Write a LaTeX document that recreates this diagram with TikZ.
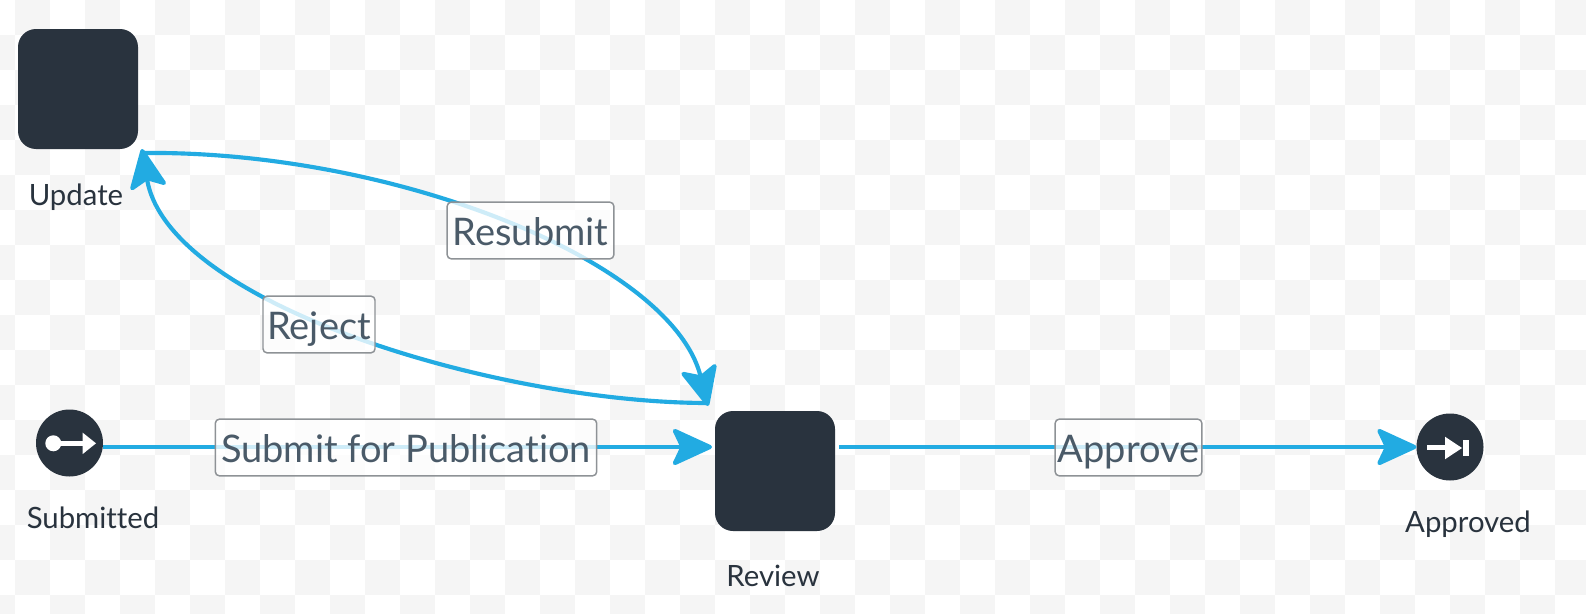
\documentclass[tikz,border=0pt]{standalone}
\usepackage{fontspec}
\setmainfont{Lato}[Ligatures=NoCommon]
\usetikzlibrary{arrows.meta}
\definecolor{ink}{HTML}{29333E}
\definecolor{flow}{HTML}{22ABE2}
\definecolor{labelink}{HTML}{4A5A68}
\definecolor{check}{HTML}{F5F5F5}
\definecolor{labeledge}{HTML}{8E9296}
\tikzset{
  x=0.75pt,y=-0.75pt,
  task/.style={fill=ink,draw=none,rounded corners=13.5pt,minimum width=90pt,minimum height=90pt,inner sep=0pt,outer sep=0pt},
  terminal/.style={circle,fill=ink,draw=none,minimum size=50.25pt,inner sep=0pt,outer sep=0pt},
  caption/.style={text=ink,font=\fontsize{22}{26}\selectfont,inner sep=0pt,anchor=base},
  flowlabel/.style={draw=labeledge,line width=1.1pt,fill=white,fill opacity=0.78,text opacity=1,text=labelink,rounded corners=3pt,inner sep=0pt,font=\fontsize{28.5}{32}\selectfont,text height=24pt,text depth=2.2pt},
  flowline/.style={draw=flow,line width=3.1pt,-{Stealth[length=33pt,width=30pt,inset=7pt,round]},line join=round},
  icon/.style={fill=white,draw=none},
}
\begin{document}
\begin{tikzpicture}
\useasboundingbox (0,0) rectangle (1586,614);
\fill[white] (0,0) rectangle (1586,614);
\foreach \i in {-1,...,45}{\foreach \j in {0,...,17}{
  \pgfmathtruncatemacro{\cellpar}{mod(\i+\j+2,2)}
  \ifnum\cellpar=0
    \fill[check] ({15+35*\i},{35*\j}) rectangle ({50+35*\i},{35+35*\j});
  \fi
}}
\node[task] (update) at (78,89) {};
\node[task] (review) at (775,471) {};
\node[terminal] (submitted) at (69.5,443) {};
\node[terminal] (approved) at (1450,447) {};
\node[caption] (updatecap) at (76,205) {Update};
\node[caption] (submittedcap) at (93,528) {Submitted};
\node[caption] (reviewcap) at (773,586) {Review};
\node[caption] (approvedcap) at (1468,532) {Approved};
% connectors
\draw[flowline] ([shift={(0,4)}]submitted.east) -- ([shift={(-3,-24)}]review.west);
\draw[flowline] ([shift={(4,-24)}]review.east) -- (approved.west);
\draw[flowline] ([shift={(4,4)}]update.south east) .. controls (395,150) and (672,262) .. ([shift={(-7,-5)}]review.north west);
\draw[flowline] ([shift={(-7,-8)}]review.north west) .. controls (500,403) and (168,305) .. ([shift={(4,0)}]update.south east);
% labels
\node[flowlabel,minimum width=286pt,minimum height=42.5pt] (l1) at (406,447.5) {Submit for Publication};
\node[flowlabel,minimum width=110pt,minimum height=42.5pt] (l2) at (1128.5,447.5) {Approve};
\node[flowlabel,minimum width=125pt,minimum height=42.5pt] (l3) at (530.5,230.5) {Resubmit};
\node[flowlabel,minimum width=84pt,minimum height=42.5pt] (l4) at (319,324.5) {Reject};
% icons
\fill[icon] (53.3,443.3) circle (8);
\fill[icon] (53,441) rectangle (84,445.5);
\fill[icon] (82.7,432.7) -- (96,443.3) -- (82.7,454) -- cycle;
\fill[icon] (1427,444.5) rectangle (1446,450);
\fill[icon] (1445,436.7) -- (1462,448) -- (1445,459.3) -- cycle;
\fill[icon] (1463,439.5) rectangle (1468.5,455.5);
\end{tikzpicture}
\end{document}
